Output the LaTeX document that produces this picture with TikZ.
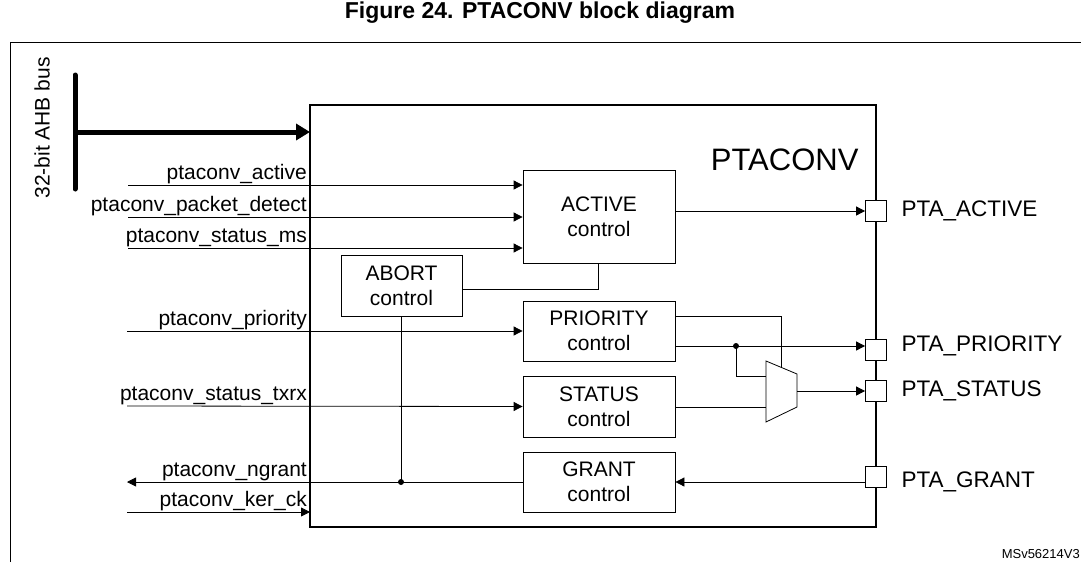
\documentclass[tikz,border=0pt]{standalone}
\usepackage{fontspec}
\setmainfont{Liberation Sans}
\usetikzlibrary{arrows.meta, positioning}
\tikzstyle{block} = [draw=black, thick, minimum width=152pt, align=center, font=\fontsize{21}{25}\selectfont, inner sep=0]
\tikzstyle{pad} = [draw=black, thick, fill=white, minimum size=21pt, inner sep=0]
\tikzstyle{sig} = [font=\fontsize{21}{23}\selectfont, anchor=south east, inner sep=1pt]
\tikzstyle{lbl} = [font=\fontsize{22.5}{25}\selectfont, anchor=west]
\tikzstyle{wire} = [thick, -{Triangle[length=9pt, width=9pt]}]

\begin{document}
\begin{tikzpicture}[x=1pt, y=-1pt]
				\useasboundingbox (0, 0) rectangle (1081, 562);
				\node (Title) at (540, 13) {\fontsize{23}{25}\selectfont\bfseries Figure 24. PTACONV block diagram};
				\draw[thick] (10, 562) -- (10, 42) -- (1081, 42);

				% main block
				\node (Main) [draw=black, very thick, minimum width=566pt, minimum height=422pt, inner sep=0] at (593, 316) {};
				\node (Name) [anchor=east] at (862, 160) {\fontsize{31}{33}\selectfont PTACONV};

				% bus
				\draw[line width=5pt, line cap=round] (75, 75) -- (75, 189);
				\draw[line width=5pt, -{Triangle[length=14pt, width=16pt]}] (75, 132) -- (310, 132);
				\node (Bus) [rotate=90, font=\fontsize{21}{23}\selectfont] at (42, 128) {32-bit AHB bus};

				% blocks
				\node (Active) [block, minimum height=93pt] at (599, 216.5) {ACTIVE\\control};
				\node (Abort) [block, minimum width=121pt, minimum height=61pt] at (401.5, 285.5) {ABORT\\control};
				\node (Priority) [block, minimum height=60pt] at (599, 331) {PRIORITY\\control};
				\node (Status) [block, minimum height=61pt] at (599, 406.5) {STATUS\\control};
				\node (Grant) [block, minimum height=60pt] at (599, 482) {GRANT\\control};

				% pads
				\node (PadActive) [pad] at (876, 211) {};
				\node (PadPriority) [pad] at (876, 350) {};
				\node (PadStatus) [pad] at (876, 391) {};
				\node (PadGrant) [pad] at (876, 477) {};
				\node [lbl] at (898, 211) {PTA\_ACTIVE};
				\node [lbl] at (898, 346) {PTA\_PRIORITY};
				\node [lbl] at (898, 391) {PTA\_STATUS};
				\node [lbl] at (898, 482) {PTA\_GRANT};

				% inputs
				\foreach \y/\txt in {185/ptaconv\_active, 217/ptaconv\_packet\_detect, 248/ptaconv\_status\_ms}
				{
					\node [sig] at (308, \y) {\txt};
					\draw[wire] (128, \y) -- (Active.west |- 0, \y);
				}
				\node [sig] at (308, 331) {ptaconv\_priority};
				\draw[wire] (127, 331) -- (Priority.west);
				\node [sig] at (308, 406) {ptaconv\_status\_txrx};
				\draw[wire] (127, 406) -- (Status.west);
				\node [sig] at (308, 482) {ptaconv\_ngrant};
				\node [sig] at (308, 512) {ptaconv\_ker\_ck};
				\draw[wire] (127, 512) -- (310, 512);

				% grant path
				\coordinate (GrantDot) at (401, 482);
				\draw[wire] (PadGrant.west |- 0, 482) -- (Grant.east |- 0, 482);
				\draw[wire] (Grant.west |- 0, 482) -- (127, 482);
				\draw[thick] (Abort.south -| GrantDot) -- (GrantDot);
				\fill (GrantDot) circle (3pt);

				% abort to active
				\draw[thick] (Abort.east |- 0, 289) -- (598, 289) -- (Active.south -| 598, 0);
				\draw[wire] (Active.east |- 0, 211) -- (PadActive.west);

				% mux
				\coordinate (MuxTL) at (766, 361);
				\coordinate (MuxTR) at (797, 374);
				\coordinate (MuxBR) at (797, 407);
				\coordinate (MuxBL) at (766, 422);
				\draw[thick, fill=white] (MuxTL) -- (MuxTR) -- (MuxBR) -- (MuxBL) -- cycle;
				\coordinate (PrioDot) at (736, 346);
				\draw[wire] (675, 346) -- (PadPriority.west |- 0, 346);
				\fill (PrioDot) circle (3pt);
				\draw[thick] (PrioDot) -- (736, 376) -- (766, 376);
				\draw[thick] (675, 316) -- (781, 316) -- (781, 367.3);
				\draw[thick] (Status.east |- 0, 407) -- (766, 407);
				\draw[wire] (797, 391) -- (PadStatus.west);

				\node (Ref) [font=\fontsize{13}{14}\selectfont, anchor=east, inner sep=1pt] at (1081, 554) {MSv56214V3};
			\end{tikzpicture}
\end{document}
